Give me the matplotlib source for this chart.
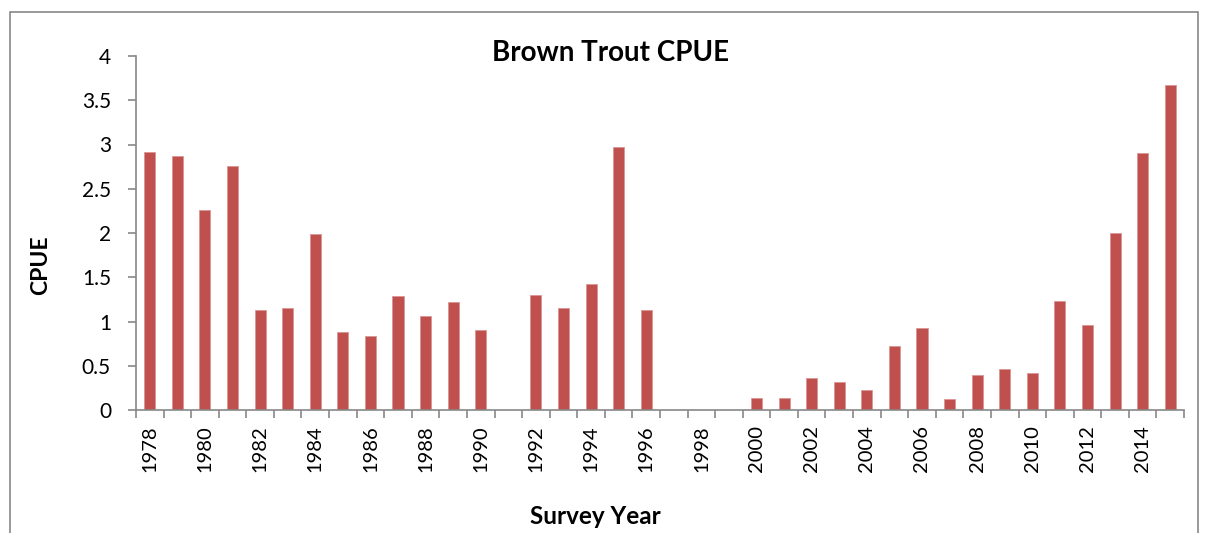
import matplotlib.pyplot as plt
import numpy as np
from matplotlib.patches import Rectangle

# data
years = list(range(1978, 2016))
cpue = [2.92, 2.87, 2.26, 2.76, 1.13, 1.15, 1.99, 0.88, 0.84, 1.29,
        1.06, 1.22, 0.90, 0.0, 1.30, 1.15, 1.42, 2.97, 1.13, 0.0,
        0.0, 0.0, 0.14, 0.14, 0.36, 0.32, 0.23, 0.72, 0.93, 0.12,
        0.39, 0.46, 0.42, 1.23, 0.96, 2.00, 2.90, 3.67]
tick_labels = [str(y) if (y - 1978) % 2 == 0 else '' for y in years]

plt.rcParams['font.family'] = ['Lato', 'DejaVu Sans']

W, H = 1208, 533
fig = plt.figure(figsize=(W / 100, H / 100), dpi=100)
ax = fig.add_axes([136 / W, 1 - 410 / H, (1184 - 136) / W, (410 - 56) / H])

# outer chart frame
fig.patches.append(Rectangle((10 / W, -0.1), 1188 / W, 1.1 - 12 / H,
                             transform=fig.transFigure, fill=False,
                             edgecolor='#888888', linewidth=1.2))

x = np.arange(len(years))
ax.bar(x, cpue, width=0.4, color='#C0504D', edgecolor='#D99694', linewidth=0.6)

ax.set_xlim(-0.5, len(years) - 0.5)
ax.set_ylim(0, 4)
ax.set_yticks(np.arange(0, 4.01, 0.5))
ax.set_yticklabels(['0', '0.5', '1', '1.5', '2', '2.5', '3', '3.5', '4'], fontsize=15)

ax.set_xticks(x)
ax.set_xticklabels(tick_labels, rotation=90, fontsize=14.5)
ax.set_xticks(np.arange(-0.5, len(years), 1), minor=True)
ax.tick_params(axis='x', which='major', length=0, pad=11)
ax.tick_params(axis='x', which='minor', length=6, color='#888888', width=1.2,
               direction='out')
ax.tick_params(axis='y', length=6, color='#888888', width=1.2, direction='out', pad=12)

for s in ['top', 'right']:
    ax.spines[s].set_visible(False)
for s in ['left', 'bottom']:
    ax.spines[s].set_color('#888888')
    ax.spines[s].set_linewidth(1.2)

fig.text(611 / W, 1 - 53 / H, 'Brown Trout CPUE', fontsize=20, fontweight='bold',
         ha='center', va='center')
fig.text(41 / W, 1 - 265 / H, 'CPUE', fontsize=16.5, fontweight='bold',
         ha='center', va='center', rotation=90)
fig.text(595 / W, 1 - 517 / H, 'Survey Year', fontsize=17.5, fontweight='bold',
         ha='center', va='center')

fig.savefig('out.png', dpi=100)
